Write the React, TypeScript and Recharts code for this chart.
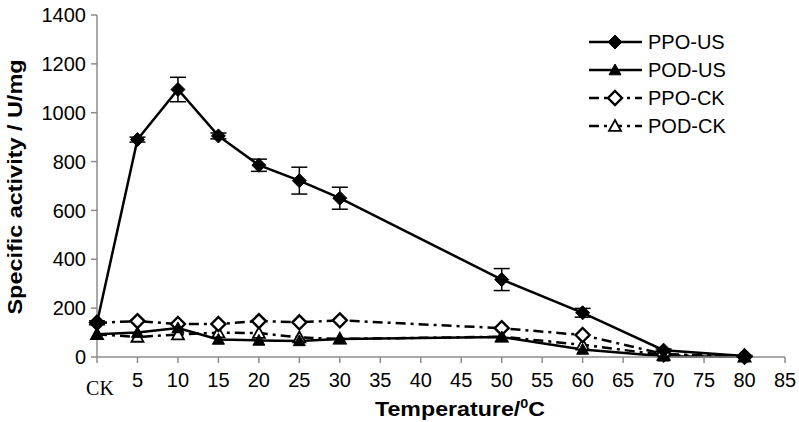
import React from 'react';
import { LineChart, Line, XAxis, YAxis, ErrorBar } from 'recharts';

const temps = [0, 5, 10, 15, 20, 25, 30, 50, 60, 70, 80];
const ppoUs = [140, 890, 1095, 905, 785, 722, 650, 317, 181, 28, 4];
const ppoUsErr = [8, 10, 50, 12, 25, 55, 45, 45, 18, 5, 2];
const podUs = [93, 100, 119, 72, 68, 66, 74, 82, 31, 3, 1];
const ppoCk = [140, 147, 135, 135, 147, 142, 150, 118, 90, 12, 2];
const podCk = [93, 82, 92, 100, 98, 80, 74, 83, 50, 8, 1];

const xTicks = [0, 5, 10, 15, 20, 25, 30, 35, 40, 45, 50, 55, 60, 65, 70, 75, 80, 85];
const yTicks = [0, 200, 400, 600, 800, 1000, 1200, 1400];

const data = temps.map((t, i) => ({
  t,
  ppoUs: ppoUs[i],
  ppoUsErr: ppoUsErr[i],
  podUs: podUs[i],
  ppoCk: ppoCk[i],
  podCk: podCk[i]
}));

const FONT = '"Liberation Sans", Arial, Helvetica, sans-serif';
const AXIS = '#8c8c8c';
const DASH = '10 5 3 5';

type Shape = 'diamond' | 'triangle';

function marker(shape: Shape, filled: boolean, cx: number, cy: number, key?: string) {
  if (shape === 'diamond') {
    const s = 7;
    return (
      <polygon
        key={key}
        points={`${cx},${cy - s} ${cx + s},${cy} ${cx},${cy + s} ${cx - s},${cy}`}
        fill={filled ? '#000' : '#fff'}
        stroke="#000"
        strokeWidth={filled ? 1 : 2.4}
      />
    );
  }
  const s = 6;
  return (
    <polygon
      key={key}
      points={`${cx},${cy - s} ${cx + s},${cy + s * 0.8} ${cx - s},${cy + s * 0.8}`}
      fill={filled ? '#000' : '#fff'}
      stroke="#000"
      strokeWidth={filled ? 1 : 1.8}
    />
  );
}

const dotFor = (shape: Shape, filled: boolean) => (props: any) =>
  marker(shape, filled, props.cx, props.cy, `${shape}-${filled}-${props.index}`);

const series = [
  { key: 'ppoUs', name: 'PPO-US', shape: 'diamond' as Shape, filled: true, dash: undefined },
  { key: 'podUs', name: 'POD-US', shape: 'triangle' as Shape, filled: true, dash: undefined },
  { key: 'ppoCk', name: 'PPO-CK', shape: 'diamond' as Shape, filled: false, dash: DASH },
  { key: 'podCk', name: 'POD-CK', shape: 'triangle' as Shape, filled: false, dash: DASH }
];

function XTick(props: any) {
  const { x, y, payload } = props;
  if (payload.value === 0) {
    return (
      <text x={x + 3} y={y} dy={30} textAnchor="middle" fontFamily='"Liberation Serif", "Times New Roman", serif' fontSize={20} fill="#000">
        CK
      </text>
    );
  }
  return (
    <text x={x} y={y} dy={22} textAnchor="middle" fontFamily={FONT} fontSize={20} fill="#000">
      {payload.value}
    </text>
  );
}

function LegendBox() {
  return (
    <div style={{ position: 'absolute', left: 588, top: 28, fontFamily: FONT, fontSize: 20, color: '#000' }}>
      {series.map((s) => (
        <div key={s.key} style={{ display: 'flex', alignItems: 'center', height: 28 }}>
          <svg width={58} height={20} style={{ marginRight: 2 }}>
            <line x1={1} y1={10} x2={54} y2={10} stroke="#000" strokeWidth={2.5} strokeDasharray={s.dash} />
            {marker(s.shape, s.filled, 27, 10)}
          </svg>
          <span>{s.name}</span>
        </div>
      ))}
    </div>
  );
}

export default function App() {
  return (
    <div style={{ position: 'absolute', left: 0, top: 0, width: 799, height: 422, background: '#fff' }}>
      <LineChart width={799} height={422} data={data} margin={{ top: 15, right: 14, left: 0, bottom: 0 }} style={{ fontFamily: FONT }}>
        <XAxis
          dataKey="t"
          type="number"
          domain={[0, 85]}
          ticks={xTicks}
          interval={0}
          height={65}
          tick={<XTick />}
          tickSize={6}
          tickMargin={2}
          stroke={AXIS}
          strokeWidth={1.5}
          label={{
            content: () => (
              <text x={460} y={416} textAnchor="middle" fontFamily={FONT} fontWeight="bold" fontSize={21} fill="#000" textLength={170} lengthAdjust="spacingAndGlyphs">
                Temperature/<tspan fontSize={13} dy={-8}>0</tspan>
                <tspan dy={8}>C</tspan>
              </text>
            )
          }}
        />
        <YAxis
          type="number"
          domain={[0, 1400]}
          ticks={yTicks}
          interval={0}
          width={97}
          tickSize={6}
          tickMargin={5}
          stroke={AXIS}
          strokeWidth={1.5}
          tick={{ fill: '#000', fontSize: 20, fontFamily: FONT }}
          label={{
            content: () => (
              <text
                x={0}
                y={0}
                transform="translate(22, 187) rotate(-90)"
                textAnchor="middle"
                fontFamily={FONT}
                fontWeight="bold"
                fontSize={21}
                fill="#000"
                textLength={255}
                lengthAdjust="spacingAndGlyphs"
              >
                Specific activity / U/mg
              </text>
            )
          }}
        />
        {[...series].reverse().map((s) => (
          <Line
            key={s.key}
            dataKey={s.key}
            name={s.name}
            type="linear"
            stroke="#000"
            strokeWidth={2.5}
            strokeDasharray={s.dash}
            dot={dotFor(s.shape, s.filled)}
            activeDot={false}
            isAnimationActive={false}
          >
            {s.key === 'ppoUs' ? (
              <ErrorBar dataKey="ppoUsErr" direction="y" width={8} stroke="#000" strokeWidth={1.5} />
            ) : null}
          </Line>
        ))}
      </LineChart>
      <LegendBox />
    </div>
  );
}
